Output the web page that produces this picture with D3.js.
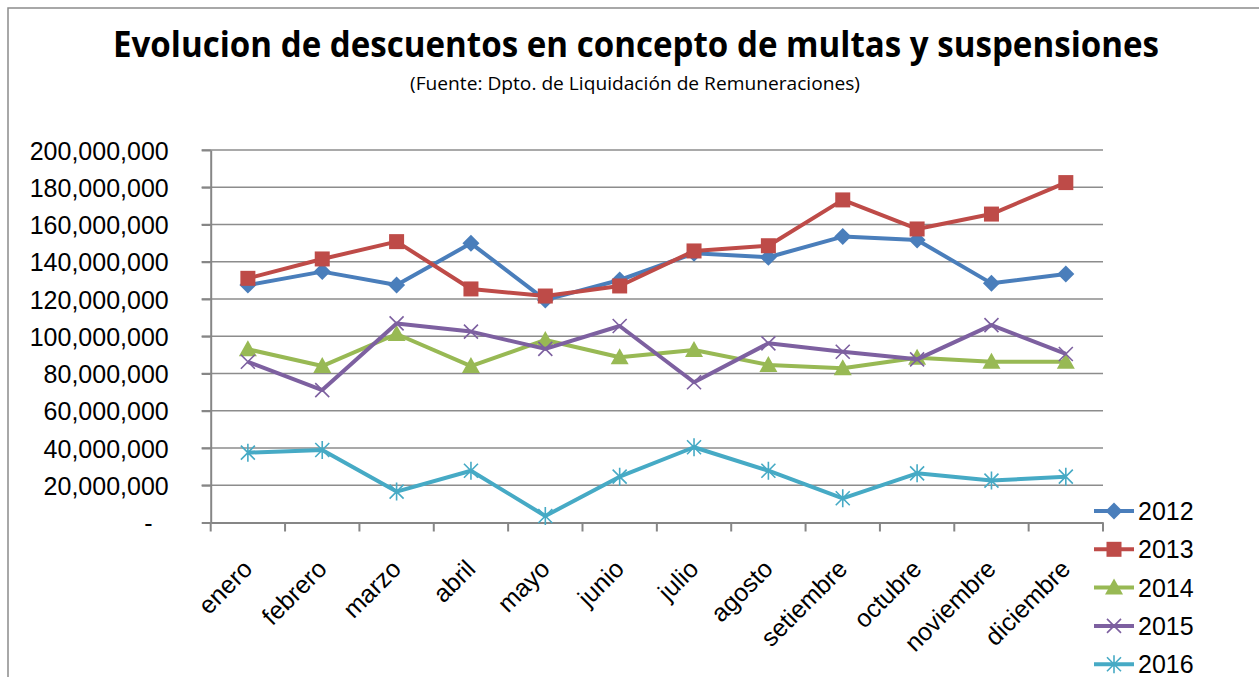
<!DOCTYPE html>
<html>
<head>
<meta charset="utf-8">
<script src="https://cdn.jsdelivr.net/npm/d3@7"></script>
<style>
  body { margin: 0; background: #fff; }
  svg { display: block; font-family: "Liberation Sans", Arial, sans-serif; }
  .grid line { stroke: #8c8c8c; stroke-width: 1.5; }
  .axis path, .axis line { stroke: #868686; stroke-width: 2; }
</style>
</head>
<body>
<svg width="1259" height="677"></svg>
<script>
const months = ["enero", "febrero", "marzo", "abril", "mayo", "junio", "julio",
  "agosto", "setiembre", "octubre", "noviembre", "diciembre"];
const years = ["2012", "2013", "2014", "2015", "2016"];

// millones de pesos
const v2012 = [127.5, 134.7, 127.5, 149.9, 119.5, 130.2, 144.5, 142.4, 153.5, 151.7, 128.4, 133.4];
const v2013 = [131.1, 141.5, 150.8, 125.4, 121.6, 127.0, 145.8, 148.6, 173.2, 157.6, 165.6, 182.5];
const v2014 = [93.0, 84.0, 101.2, 84.0, 98.0, 88.7, 92.6, 84.6, 82.8, 88.5, 86.3, 86.3];
const v2015 = [86.3, 71.1, 106.9, 102.5, 93.2, 105.5, 75.3, 96.2, 91.7, 87.6, 106.0, 90.5];
const v2016 = [37.5, 38.9, 16.6, 27.8, 3.5, 24.6, 40.4, 27.8, 13.0, 26.4, 22.5, 24.6];

const yTicks = [0, 20, 40, 60, 80, 100, 120, 140, 160, 180, 200];
const colors = ["#4a7ebb", "#be4b48", "#98b954", "#7d60a0", "#46aac5"];
const markers = ["diamond", "square", "triangle", "x", "star"];

const series = years.map((y, i) => ({
  name: y,
  values: [v2012, v2013, v2014, v2015, v2016][i].map(v => v * 1e6),
  color: colors[i],
  marker: markers[i]
}));

const svg = d3.select("svg");

svg.append("rect")
  .attr("x", 8).attr("y", 8)
  .attr("width", 1300).attr("height", 700)
  .attr("fill", "none")
  .attr("stroke", "#8c8c8c")
  .attr("stroke-width", 1.5);

svg.append("text")
  .attr("x", 636).attr("y", 57)
  .attr("text-anchor", "middle")
  .attr("font-family", "'Open Sans', sans-serif")
  .attr("font-weight", "bold")
  .attr("font-size", 35)
  .attr("textLength", 1046)
  .attr("lengthAdjust", "spacingAndGlyphs")
  .text("Evolucion de descuentos en concepto de multas y suspensiones");

svg.append("text")
  .attr("x", 635).attr("y", 90)
  .attr("text-anchor", "middle")
  .attr("font-family", "'Open Sans', sans-serif")
  .attr("font-size", 18)
  .attr("textLength", 450)
  .attr("lengthAdjust", "spacingAndGlyphs")
  .text("(Fuente: Dpto. de Liquidación de Remuneraciones)");

const x = d3.scaleBand()
  .domain(months)
  .range([210.7, 1103]);

const y = d3.scaleLinear()
  .domain([0, 200e6])
  .range([522.5, 150]);

// lineas de grilla
svg.append("g")
  .attr("class", "grid")
  .selectAll("line")
  .data(yTicks.slice(1))
  .join("line")
  .attr("x1", 201.7).attr("x2", 1103)
  .attr("y1", d => y(d * 1e6)).attr("y2", d => y(d * 1e6));

// eje y
const yAxis = svg.append("g")
  .attr("class", "axis")
  .attr("transform", "translate(210.7,0)")
  .call(d3.axisLeft(y)
    .tickValues(yTicks.map(d => d * 1e6))
    .tickSize(9)
    .tickSizeOuter(0)
    .tickFormat(d => d === 0 ? "-" : d3.format(",")(d)));
yAxis.selectAll("text")
  .attr("font-size", 25)
  .attr("font-family", "'Liberation Sans', sans-serif")
  .attr("fill", "#000")
  .attr("x", -42)
  .attr("dy", "0.36em")
  .filter(d => d === 0)
  .attr("x", -58);

// eje x
const xAxis = svg.append("g")
  .attr("class", "axis")
  .attr("transform", "translate(0,522.5)")
  .call(d3.axisBottom(x).tickSize(0).tickSizeOuter(0));
xAxis.selectAll(".tick line").remove();
xAxis.selectAll("line.sep")
  .data(months.concat(["_end"]))
  .join("line")
  .attr("class", "sep")
  .attr("x1", (d, i) => x.range()[0] + i * x.bandwidth())
  .attr("x2", (d, i) => x.range()[0] + i * x.bandwidth())
  .attr("y1", 0).attr("y2", 9);
xAxis.selectAll(".tick text")
  .attr("font-size", 25)
  .attr("font-family", "'Liberation Sans', sans-serif")
  .attr("fill", "#000")
  .attr("text-anchor", "end")
  .attr("y", 0)
  .attr("dy", 0)
  .attr("transform", "translate(6,48) rotate(-45)");

const cx = d => x(d) + x.bandwidth() / 2;

const line = d3.line()
  .x((d, i) => cx(months[i]))
  .y(d => y(d));

function drawMarker(g, type, color) {
  if (type === "diamond") {
    g.append("path").attr("d", "M0,-8.5L8.5,0L0,8.5L-8.5,0Z").attr("fill", color);
  } else if (type === "square") {
    g.append("rect").attr("x", -7.5).attr("y", -7.5).attr("width", 15).attr("height", 15).attr("fill", color);
  } else if (type === "triangle") {
    g.append("path").attr("d", "M0,-9L9,7L-9,7Z").attr("fill", color);
  } else if (type === "x") {
    g.append("path").attr("d", "M-7,-7L7,7M-7,7L7,-7")
      .attr("stroke", color).attr("stroke-width", 1.6).attr("fill", "none");
  } else {
    g.append("path").attr("d", "M-7,-7L7,7M-7,7L7,-7M0,-9L0,9")
      .attr("stroke", color).attr("stroke-width", 1.6).attr("fill", "none");
  }
}

series.forEach(s => {
  svg.append("path")
    .datum(s.values)
    .attr("fill", "none")
    .attr("stroke", s.color)
    .attr("stroke-width", 4)
    .attr("stroke-linejoin", "round")
    .attr("d", line);
  s.values.forEach((v, i) => {
    const g = svg.append("g")
      .attr("transform", `translate(${cx(months[i])},${y(v)})`);
    drawMarker(g, s.marker, s.color);
  });
});

// leyenda
const legend = svg.append("g");
series.forEach((s, i) => {
  const ly = 511 + i * 38.3;
  legend.append("line")
    .attr("x1", 1094).attr("x2", 1134)
    .attr("y1", ly).attr("y2", ly)
    .attr("stroke", s.color).attr("stroke-width", 4);
  const g = legend.append("g").attr("transform", `translate(1114,${ly})`);
  drawMarker(g, s.marker, s.color);
  legend.append("text")
    .attr("x", 1138).attr("y", ly + 9)
    .attr("font-size", 25)
    .attr("fill", "#000")
    .text(s.name);
});
</script>
</body>
</html>
